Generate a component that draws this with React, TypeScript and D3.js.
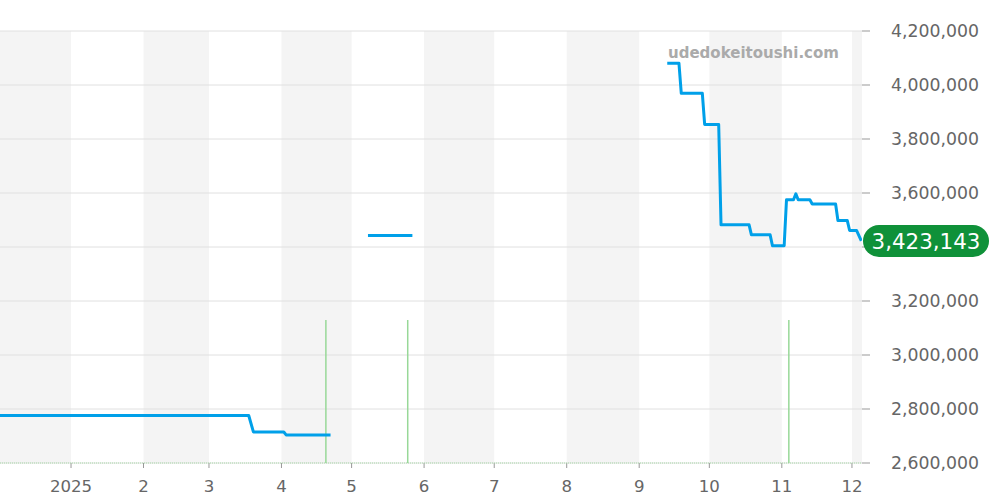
import React from "react";
import * as d3 from "d3";

// ---- data ----
const priceSegments: { date: string; value: number }[][] = [
  [
    { date: "2024-12-01", value: 2776000 },
    { date: "2025-03-18", value: 2776000 },
    { date: "2025-03-20", value: 2715000 },
    { date: "2025-04-02", value: 2715000 },
    { date: "2025-04-03", value: 2704000 },
    { date: "2025-04-22", value: 2704000 },
  ],
  [
    { date: "2025-05-08", value: 3442600 },
    { date: "2025-05-27", value: 3442600 },
  ],
  [
    { date: "2025-09-13", value: 4081000 },
    { date: "2025-09-18", value: 4081000 },
    { date: "2025-09-19", value: 3969000 },
    { date: "2025-09-28", value: 3969000 },
    { date: "2025-09-29", value: 3854000 },
    { date: "2025-10-05", value: 3854000 },
    { date: "2025-10-06", value: 3482000 },
    { date: "2025-10-18", value: 3482000 },
    { date: "2025-10-19", value: 3445000 },
    { date: "2025-10-27", value: 3445000 },
    { date: "2025-10-28", value: 3404500 },
    { date: "2025-11-02", value: 3404500 },
    { date: "2025-11-03", value: 3575000 },
    { date: "2025-11-06", value: 3575000 },
    { date: "2025-11-07", value: 3597000 },
    { date: "2025-11-08", value: 3575000 },
    { date: "2025-11-13", value: 3575000 },
    { date: "2025-11-14", value: 3559000 },
    { date: "2025-11-24", value: 3559000 },
    { date: "2025-11-25", value: 3498000 },
    { date: "2025-11-29", value: 3498000 },
    { date: "2025-11-30", value: 3461000 },
    { date: "2025-12-03", value: 3461000 },
    { date: "2025-12-05", value: 3423143 },
  ],
];
const volumeDates = ["2025-04-20", "2025-05-25", "2025-11-04"];
const volumeCounts = [1, 1, 1];
const yTicks = [2600000, 2800000, 3000000, 3200000, 3400000, 3600000, 3800000, 4000000, 4200000];
const monthTicks = ["2025-01-01", "2025-02-01", "2025-03-01", "2025-04-01", "2025-05-01", "2025-06-01",
  "2025-07-01", "2025-08-01", "2025-09-01", "2025-10-01", "2025-11-01", "2025-12-01"];
const monthLabels = ["2025", "2", "3", "4", "5", "6", "7", "8", "9", "10", "11", "12"];
const lastPrice = 3423143;
const watermark = "udedokeitoushi.com";

const parse = (s: string) => {
  const [y, m, d] = s.split("-").map(Number);
  return new Date(y, m - 1, d);
};

export default function App() {
  const W = 1000, H = 500;
  const left = 0, right = 862, top = 31, bottom = 463;
  const x = d3.scaleTime()
    .domain([new Date(2024, 11, 1, 15), new Date(2025, 11, 5, 7)])
    .range([left, right]);
  const y = d3.scaleLinear().domain([2600000, 4200000]).range([bottom, top]);
  const vy = d3.scaleLinear().domain([0, 1]).range([bottom, 320]);

  // shaded alternating month bands (even months, and Dec 2024)
  const bandStarts = [new Date(2024, 11, 1), ...monthTicks.map(parse)];
  const bands: { x0: number; x1: number }[] = [];
  bandStarts.forEach((d) => {
    const m = d.getMonth();
    if (m % 2 === 1) {
      const end = d3.timeMonth.offset(d, 1);
      const x0 = Math.max(left, x(d));
      const x1 = Math.min(right, x(end));
      if (x1 > x0) bands.push({ x0, x1 });
    }
  });

  const line = d3.line<{ date: string; value: number }>()
    .x((d) => x(parse(d.date)))
    .y((d) => y(d.value))
    .curve(d3.curveLinear);

  const fmt = d3.format(",");
  const gray = "#666";
  const pillY = y(lastPrice);

  return (
    <svg width={W} height={H} style={{ position: "absolute", left: 0, top: 0, fontFamily: "DejaVu Sans" }}>
      <defs>
        <clipPath id="plot">
          <rect x={left} y={0} width={right - left} height={bottom} />
        </clipPath>
      </defs>
      <rect x={0} y={0} width={W} height={H} fill="#fff" />
      {bands.map((b, i) => (
        <rect key={i} x={b.x0} y={top} width={b.x1 - b.x0} height={bottom - top} fill="#f4f4f4" />
      ))}
      {yTicks.map((t) => (
        <g key={t}>
          <line x1={left} x2={right} y1={y(t)} y2={y(t)} stroke="#e0e0e0" strokeWidth={1} />
          <line x1={right} x2={right + 8} y1={y(t)} y2={y(t)} stroke="#999" strokeWidth={1} />
          {Math.abs(y(t) - pillY) > 18 && (
            <text x={891} y={y(t) + 6.3} fontSize={17.3} fill={gray}>{fmt(t)}</text>
          )}
        </g>
      ))}
      {monthTicks.map((m, i) => {
        const xx = x(parse(m));
        return (
          <g key={m}>
            <line x1={xx} x2={xx} y1={bottom} y2={bottom + 5} stroke="#999" strokeWidth={1} />
            <text x={xx} y={492} fontSize={16.6} fill={gray} textAnchor="middle">{monthLabels[i]}</text>
          </g>
        );
      })}
      <text x={668} y={57.5} fontSize={15} fontWeight="bold" fill="#aaa">{watermark}</text>
      <line x1={left} x2={right} y1={bottom} y2={bottom} stroke="#a8dca8" strokeWidth={1.2} strokeDasharray="1 1" />
      {volumeDates.map((d, i) => (
        <line key={d} x1={x(parse(d))} x2={x(parse(d))} y1={vy(volumeCounts[i])} y2={bottom}
          stroke="#98d898" strokeWidth={1.5} />
      ))}
      <g clipPath="url(#plot)">
        {priceSegments.map((seg, i) => (
          <path key={i} d={line(seg) || ""} fill="none" stroke="#00a0e9" strokeWidth={3} strokeLinejoin="round" />
        ))}
      </g>
      <rect x={863} y={225} width={126} height={32} rx={16} fill="#0f9139" />
      <text x={926} y={249} fontSize={21.4} fill="#fff" textAnchor="middle">{fmt(lastPrice)}</text>
    </svg>
  );
}
